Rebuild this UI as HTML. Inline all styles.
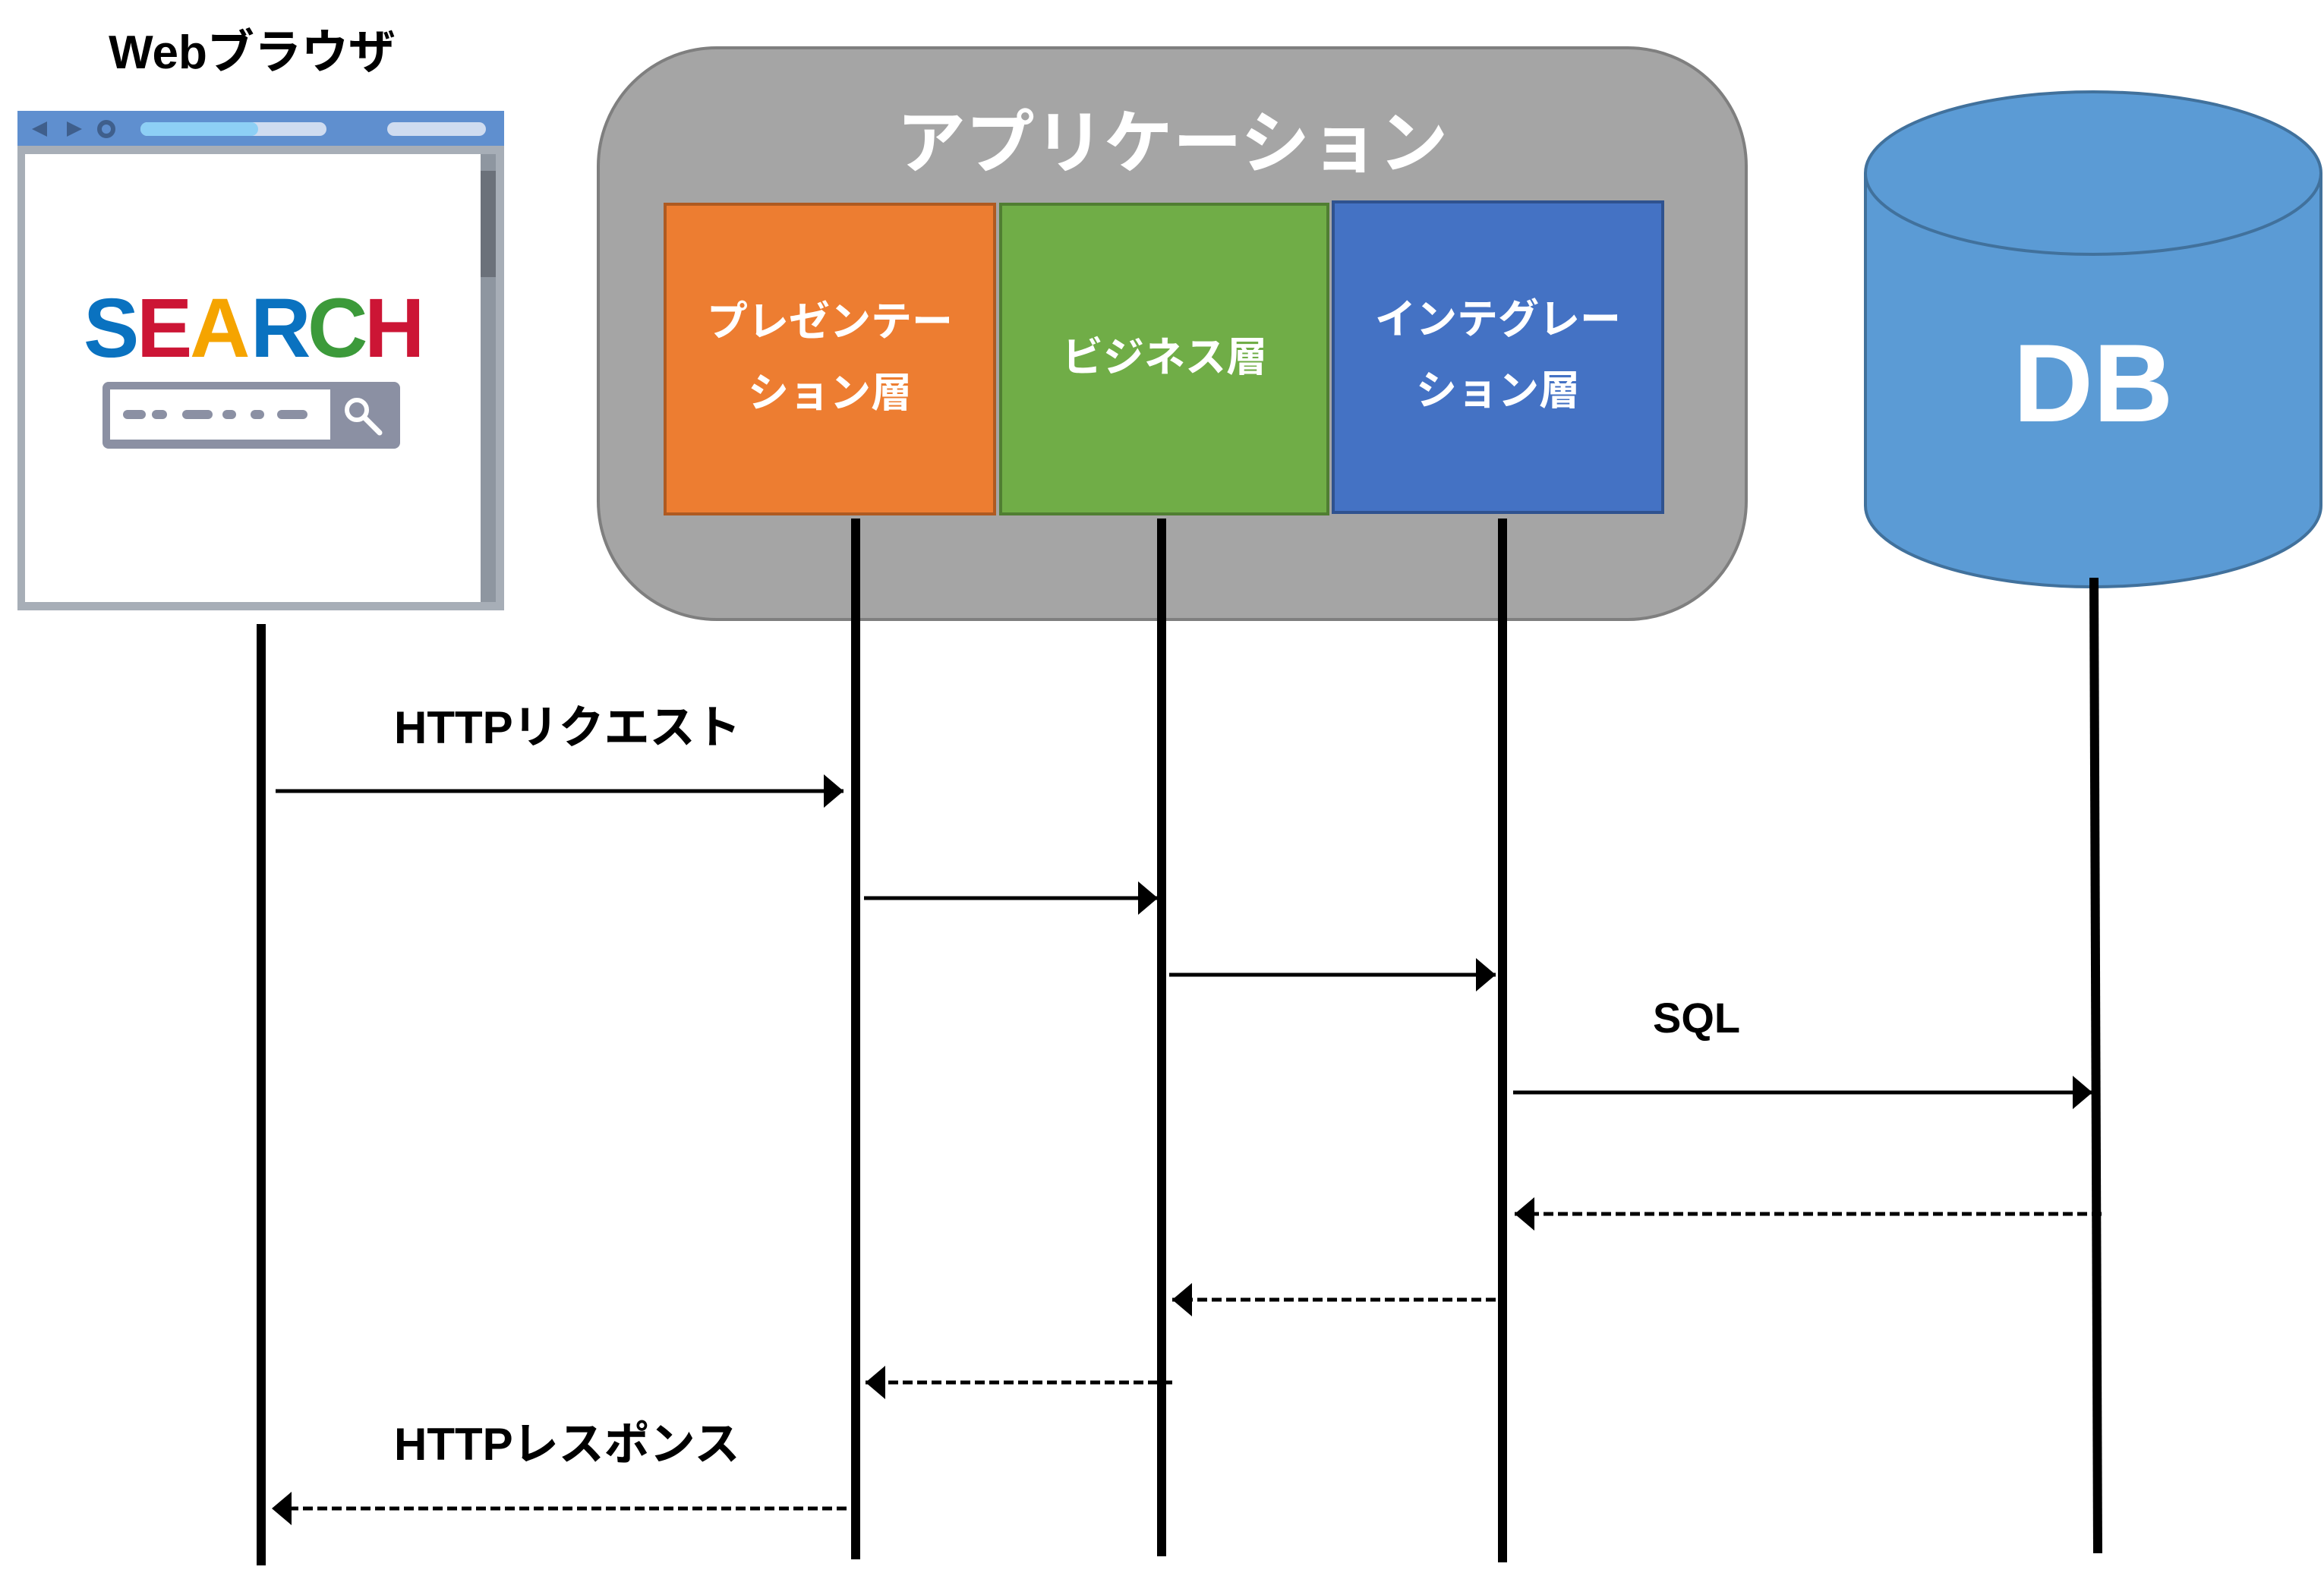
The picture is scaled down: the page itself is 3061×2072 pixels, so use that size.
<!DOCTYPE html>
<html><head><meta charset="utf-8"><style>
html,body{margin:0;padding:0;background:#fff;}
svg{display:block;}
text{font-family:"Liberation Sans","Noto Sans CJK JP",sans-serif;font-weight:bold;}
</style></head><body>
<svg width="3061" height="2072" viewBox="0 0 3061 2072" xmlns="http://www.w3.org/2000/svg">
<defs>
<marker id="ah" markerWidth="26" markerHeight="44" refX="26" refY="22" orient="auto" markerUnits="userSpaceOnUse">
<path d="M0,0 L26,22 L0,44 Z" fill="#000"/>
</marker>
</defs>
<text x="332" y="90" font-size="62" text-anchor="middle" fill="#000">Webブラウザ</text>
<!-- browser -->
<rect x="23" y="146" width="641" height="658" fill="#a7aeb7"/>
<rect x="23" y="146" width="641" height="46" fill="#5f8fcf"/>
<rect x="33" y="203" width="600" height="590" fill="#fff"/>
<rect x="633" y="203" width="20" height="590" fill="#8e96a0"/>
<rect x="633" y="225" width="20" height="140" fill="#6b717a"/>
<path d="M42,170 L62,160 L62,180 Z" fill="#3f5f8c"/>
<path d="M88,160 L108,170 L88,180 Z" fill="#3f5f8c"/>
<circle cx="140" cy="170" r="9" fill="none" stroke="#3f5f8c" stroke-width="6"/>
<rect x="185" y="161" width="245" height="18" rx="9" fill="#cfdcf0"/>
<rect x="185" y="161" width="155" height="18" rx="9" fill="#8dcff5"/>
<rect x="510" y="161" width="130" height="18" rx="9" fill="#cfdcf0"/>
<text x="110" y="470" font-size="110" fill="#0a72c0" letter-spacing="-4">S</text>
<text x="180" y="470" font-size="110" fill="#cc1535">E</text>
<text x="250" y="470" font-size="110" fill="#f5a400">A</text>
<text x="330" y="470" font-size="110" fill="#0a72c0">R</text>
<text x="405" y="470" font-size="110" fill="#3c9a3a">C</text>
<text x="480" y="470" font-size="110" fill="#cc1535">H</text>
<rect x="135" y="503" width="392" height="88" rx="8" fill="#8b90a3"/>
<rect x="145" y="513" width="290" height="66" fill="#fff"/>
<g fill="#8b90a3"><rect x="162" y="540" width="30" height="12" rx="6"/><rect x="200" y="540" width="20" height="12" rx="6"/><rect x="240" y="540" width="40" height="12" rx="6"/><rect x="293" y="540" width="18" height="12" rx="6"/><rect x="330" y="540" width="18" height="12" rx="6"/><rect x="365" y="540" width="40" height="12" rx="6"/></g>
<circle cx="470" cy="540" r="13" fill="none" stroke="#fff" stroke-width="6"/>
<line x1="480" y1="550" x2="500" y2="570" stroke="#fff" stroke-width="7" stroke-linecap="round"/>
<!-- app -->
<rect x="788" y="63" width="1512" height="753" rx="156" fill="#a5a5a5" stroke="#7f7f7f" stroke-width="4"/>
<text x="1544" y="220" font-size="91" text-anchor="middle" fill="#fff">アプリケーション</text>
<rect x="876" y="269" width="434" height="408" fill="#ed7d31" stroke="#ae5a21" stroke-width="4"/>
<rect x="1318" y="269" width="431" height="408" fill="#70ad47" stroke="#507e32" stroke-width="4"/>
<rect x="1756" y="266" width="434" height="409" fill="#4472c4" stroke="#2f528f" stroke-width="4"/>
<g fill="#fff" font-size="54" text-anchor="middle">
<text x="1093" y="442">プレゼンテー</text><text x="1093" y="536">ション層</text>
<text x="1534" y="489">ビジネス層</text>
<text x="1973" y="439">インテグレー</text><text x="1973" y="533">ション層</text>
</g>
<!-- DB -->
<path d="M2457,228 L2457,666 A300,107 0 0 0 3057,666 L3057,228" fill="#5b9bd5" stroke="#41719c" stroke-width="4"/>
<ellipse cx="2757" cy="228" rx="300" ry="107" fill="#5b9bd5" stroke="#41719c" stroke-width="4"/>
<text x="2757" y="555" font-size="146" text-anchor="middle" fill="#fff">DB</text>
<!-- lifelines -->
<g stroke="#000" stroke-width="12">
<line x1="344" y1="822" x2="344" y2="2062"/>
<line x1="1127" y1="683" x2="1127" y2="2054"/>
<line x1="1530" y1="683" x2="1530" y2="2050"/>
<line x1="1979" y1="683" x2="1979" y2="2058"/>
<line x1="2758" y1="761" x2="2763" y2="2046"/>
</g>
<g stroke="#000" stroke-width="5" marker-end="url(#ah)">
<line x1="363" y1="1042" x2="1111" y2="1042"/>
<line x1="1138" y1="1183" x2="1525" y2="1183"/>
<line x1="1540" y1="1284" x2="1970" y2="1284"/>
<line x1="1993" y1="1439" x2="2756" y2="1439"/>
</g>
<g stroke="#000" stroke-width="5" stroke-dasharray="13,6" marker-end="url(#ah)">
<line x1="2768" y1="1599" x2="1995" y2="1599"/>
<line x1="1970" y1="1712" x2="1544" y2="1712"/>
<line x1="1544" y1="1821" x2="1140" y2="1821"/>
<line x1="1115" y1="1987" x2="358" y2="1987"/>
</g>
<g font-size="60" fill="#000">
<text x="519" y="979">HTTPリクエスト</text>
<text x="2177" y="1360" font-size="56">SQL</text>
<text x="519" y="1923">HTTPレスポンス</text>
</g>
</svg>
</body></html>
